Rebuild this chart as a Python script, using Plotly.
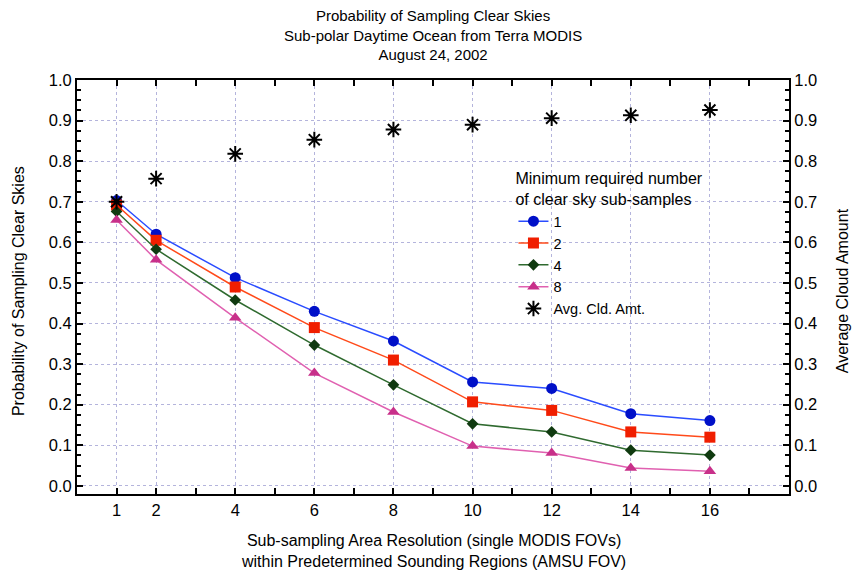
import plotly.graph_objects as go

x_res = [1, 2, 4, 6, 8, 10, 12, 14, 16]
p1 = [0.703, 0.620, 0.513, 0.430, 0.357, 0.256, 0.240, 0.178, 0.161]
p2 = [0.692, 0.605, 0.490, 0.390, 0.310, 0.207, 0.186, 0.133, 0.120]
p4 = [0.676, 0.583, 0.458, 0.347, 0.249, 0.153, 0.133, 0.088, 0.076]
p8 = [0.655, 0.557, 0.414, 0.278, 0.182, 0.098, 0.081, 0.044, 0.036]
avg_cld = [0.700, 0.757, 0.818, 0.853, 0.878, 0.890, 0.906, 0.913, 0.926]
x_ticks = [1, 2, 4, 6, 8, 10, 12, 14, 16]
x_minor = [3, 5, 7, 9, 11, 13, 15, 17]
y_ticks = [0.0, 0.1, 0.2, 0.3, 0.4, 0.5, 0.6, 0.7, 0.8, 0.9, 1.0]

FONT = "Liberation Sans, Arial, sans-serif"

fig = go.Figure()
series = [
    ("1", p1, "#2a4cff", "#0010c8", "circle", 11),
    ("2", p2, "#ff4a1a", "#f01e00", "square", 11),
    ("4", p4, "#2f6a2f", "#103a10", "diamond", 9),
    ("8", p8, "#e060b0", "#c8308a", "triangle-up", 11),
]
for name, vals, lc, mc, sym, sz in series:
    fig.add_trace(go.Scatter(
        x=x_res, y=vals, name=name, mode="lines+markers",
        line=dict(color=lc, width=1.5),
        marker=dict(color=mc, symbol=sym, size=sz, line=dict(width=0)),
    ))
fig.add_trace(go.Scatter(
    x=x_res, y=avg_cld, name="Avg. Cld. Amt.", mode="markers", yaxis="y2",
    marker=dict(color="black", symbol="asterisk-open", size=13,
                line=dict(color="black", width=2)),
))

tickfont = dict(family=FONT, size=16.5, color="black")
minor_y = dict(ticks="inside", dtick=0.025, tick0=0, ticklen=4, tickcolor="black", showgrid=False)
GRID = "#b4b4dc"

fig.update_layout(
    width=853, height=574,
    paper_bgcolor="white", plot_bgcolor="white",
    margin=dict(l=77, r=64, t=80, b=80, autoexpand=False),
    font=dict(family=FONT, size=14, color="black"),
    showlegend=True,
    legend=dict(
        x=0.613, y=0.798, xanchor="left", yanchor="top",
        bgcolor="rgba(255,255,255,0)",
        font=dict(family=FONT, size=14.5, color="black"),
        title=dict(text="Minimum required number<br>of clear sky sub-samples",
                   font=dict(family=FONT, size=16, color="black")),
        tracegroupgap=0,
    ),
    xaxis=dict(
        range=[0, 18], tickmode="array", tickvals=x_ticks,
        ticktext=[str(v) for v in x_ticks],
        ticks="inside", ticklen=6, tickcolor="black", tickwidth=1.5,
        showline=True, linecolor="black", linewidth=2, mirror="allticks",
        showgrid=True, gridcolor=GRID, griddash="dot", gridwidth=1,
        zeroline=False, tickfont=tickfont, automargin=False,
        minor=dict(ticks="inside", tickmode="array", tickvals=x_minor,
                   ticklen=4, tickcolor="black", showgrid=False),
    ),
    yaxis=dict(
        range=[-0.02, 1.0], tickmode="array", tickvals=y_ticks,
        ticktext=[f"{v:.1f}" for v in y_ticks],
        ticks="inside", ticklen=6, tickcolor="black", tickwidth=1.5,
        showline=True, linecolor="black", linewidth=2, mirror=False,
        showgrid=True, gridcolor=GRID, griddash="dot", gridwidth=1,
        zeroline=False, tickfont=tickfont, minor=minor_y, automargin=False,
    ),
    yaxis2=dict(
        range=[-0.02, 1.0], overlaying="y", side="right", tickmode="array",
        tickvals=y_ticks, ticktext=[f"{v:.1f}" for v in y_ticks],
        ticks="inside", ticklen=6, tickcolor="black", tickwidth=1.5,
        showline=True, linecolor="black", linewidth=2,
        showgrid=False, zeroline=False, tickfont=tickfont, minor=minor_y,
        automargin=False,
    ),
    annotations=[
        dict(text="Probability of Sampling Clear Skies<br>Sub-polar Daytime Ocean from Terra MODIS<br>August 24, 2002",
             xref="paper", yref="paper", x=0.5, y=1.1087, xanchor="center", yanchor="middle",
             showarrow=False, font=dict(family=FONT, size=15, color="black")),
        dict(text="Sub-sampling Area Resolution (single MODIS FOVs)<br>within Predetermined Sounding Regions (AMSU FOV)",
             xref="paper", yref="paper", x=0.5, y=-0.1365, xanchor="center", yanchor="middle",
             showarrow=False, font=dict(family=FONT, size=16, color="black")),
        dict(text="Probability of Sampling Clear Skies", textangle=-90,
             xref="paper", yref="paper", x=-0.0829, y=0.49, xanchor="center", yanchor="middle",
             showarrow=False, font=dict(family=FONT, size=16, color="black")),
        dict(text="Average Cloud Amount", textangle=-90,
             xref="paper", yref="paper", x=1.0745, y=0.49, xanchor="center", yanchor="middle",
             showarrow=False, font=dict(family=FONT, size=16, color="black")),
    ],
)

# remove the default 8px page margin so the figure fills the window exactly
fig.write_html(
    "out.html",
    config={"displayModeBar": False},
    post_script="document.body.style.margin='0';document.body.style.overflow='hidden';",
)
